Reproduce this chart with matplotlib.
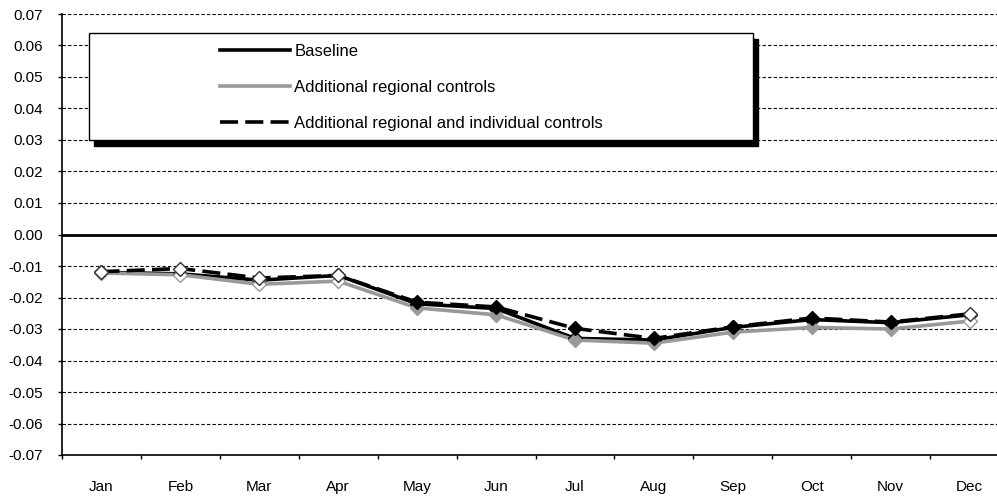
import matplotlib
matplotlib.use("Agg")
import matplotlib.pyplot as plt
from matplotlib.patches import Rectangle
from matplotlib.lines import Line2D
import numpy as np

plt.rcParams['font.family'] = ['Liberation Sans', 'DejaVu Sans']
plt.rcParams['axes.unicode_minus'] = False

months = ['Jan', 'Feb', 'Mar', 'Apr', 'May', 'Jun',
          'Jul', 'Aug', 'Sep', 'Oct', 'Nov', 'Dec']

baseline = [-0.0120, -0.0125, -0.0145, -0.0130, -0.0220, -0.0235,
            -0.0330, -0.0335, -0.0295, -0.0270, -0.0280, -0.0255]
regional = [-0.0122, -0.0128, -0.0158, -0.0148, -0.0233, -0.0255,
            -0.0335, -0.0345, -0.0310, -0.0295, -0.0300, -0.0275]
reg_indiv = [-0.0118, -0.0108, -0.0138, -0.0130, -0.0215, -0.0230,
             -0.0298, -0.0330, -0.0293, -0.0265, -0.0278, -0.0252]

# filled marker = significant month, hollow = not
significant = [False, False, False, False, True, True,
               True, True, True, True, True, False]

series = [
    ('Baseline', baseline, 'black', '-'),
    ('Additional regional controls', regional, '#999999', '-'),
    ('Additional regional and individual controls', reg_indiv, 'black', (0, (5, 2))),
]

fig = plt.figure(figsize=(9.97, 4.99), dpi=100)
ax = fig.add_axes([62 / 997, 44 / 499, 947 / 997, 441 / 499])

x = np.arange(len(months))

for y in np.arange(-0.06, 0.0701, 0.01):
    if abs(y) < 1e-9:
        continue
    ax.axhline(y, color='black', lw=0.8, linestyle=(0, (3, 2)), zorder=1)
ax.axhline(0, color='black', lw=2.0, zorder=2)

for name, vals, col, ls in series:
    ax.plot(x, vals, color=col, lw=2.6, linestyle=ls, zorder=3)
    vals = np.array(vals)
    sig = np.array(significant)
    ax.plot(x[~sig], vals[~sig], linestyle='none', marker='D', markersize=7,
            markerfacecolor='white', markeredgecolor=col if col != 'black' else '#333333',
            markeredgewidth=1.0, zorder=4)
    ax.plot(x[sig], vals[sig], linestyle='none', marker='D', markersize=7,
            markerfacecolor=col, markeredgecolor=col, zorder=4)

ax.set_xlim(-0.5, 11.5)
ax.set_ylim(-0.07, 0.07)
ax.set_yticks(np.arange(-0.07, 0.0701, 0.01))
ax.set_yticklabels([f'{v:.2f}' for v in np.arange(-0.07, 0.0701, 0.01)])

ax.set_xticks(np.arange(-0.5, 12, 1))
ax.set_xticklabels([])
ax.set_xticks(x, minor=True)
ax.set_xticklabels(months, minor=True)
ax.tick_params(axis='x', which='major', length=3, width=1, direction='out')
ax.tick_params(axis='x', which='minor', length=0, pad=18, labelsize=11)
ax.tick_params(axis='y', length=3, width=1, direction='out', pad=11, labelsize=11)

for s in ['top', 'right']:
    ax.spines[s].set_visible(False)
ax.spines['left'].set_linewidth(1.2)
ax.spines['bottom'].set_linewidth(1.2)

# legend box with shadow, drawn in figure pixels
W, H = 997, 499
box_x, box_y, box_w, box_h = 89, 33, 664, 107
fig.patches.append(Rectangle(((box_x + 5) / W, 1 - (box_y + box_h + 6) / H),
                             box_w / W, box_h / H, transform=fig.transFigure,
                             facecolor='black', edgecolor='black', zorder=5))
fig.patches.append(Rectangle((box_x / W, 1 - (box_y + box_h) / H),
                             box_w / W, box_h / H, transform=fig.transFigure,
                             facecolor='white', edgecolor='black', lw=1.0, zorder=6))

handles = [Line2D([], [], color=col, lw=2.6, linestyle=ls) for _, _, col, ls in series]
labels = [s[0] for s in series]
leg = fig.legend(handles, labels, loc='upper left',
                 bbox_to_anchor=(205 / W, 1 - 29 / H), frameon=False,
                 fontsize=12, handlelength=4.2, handletextpad=0.25,
                 labelspacing=1.25)
leg.set_zorder(7)

fig.savefig('out.png', dpi=100)
